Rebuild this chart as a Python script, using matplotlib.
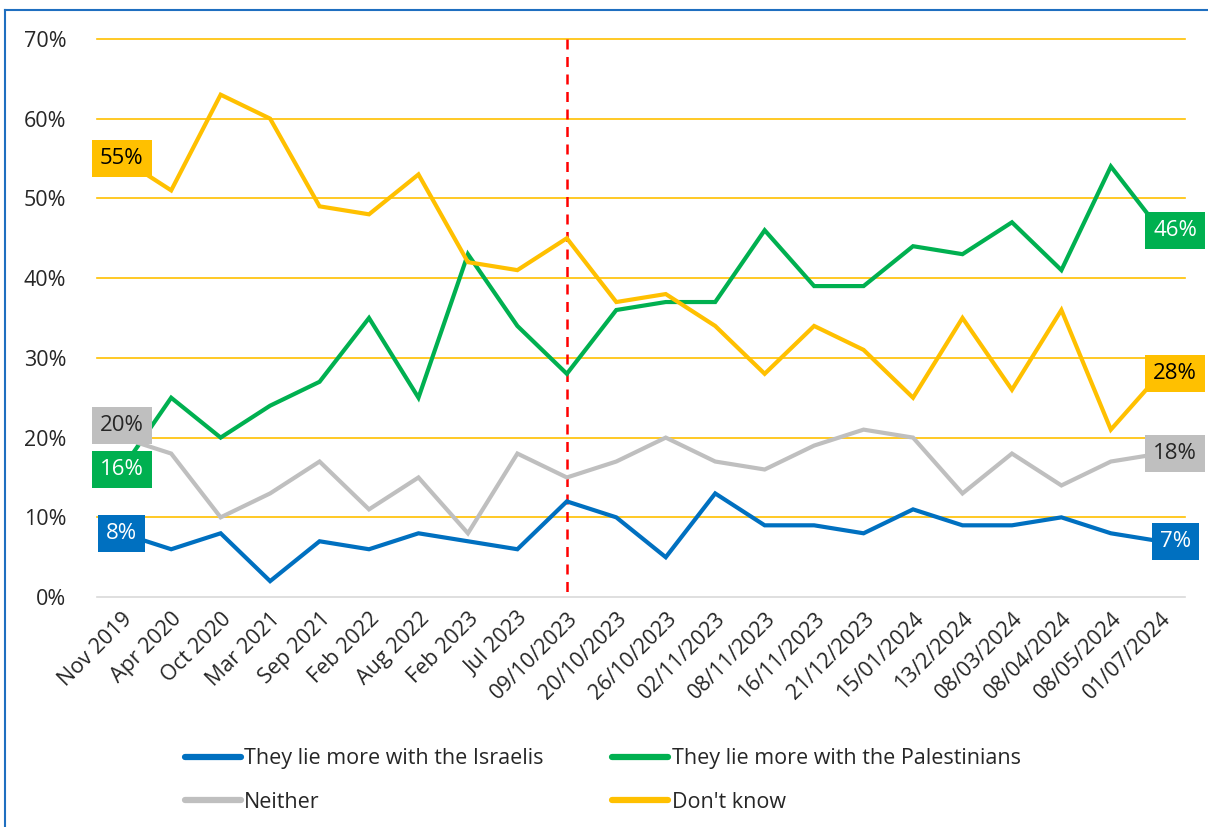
import matplotlib.pyplot as plt
from matplotlib.lines import Line2D
import matplotlib.ticker as ticker

plt.rcParams['font.family'] = ['Open Sans', 'DejaVu Sans']

dates = ["Nov 2019", "Apr 2020", "Oct 2020", "Mar 2021", "Sep 2021", "Feb 2022",
         "Aug 2022", "Feb 2023", "Jul 2023", "09/10/2023", "20/10/2023", "26/10/2023",
         "02/11/2023", "08/11/2023", "16/11/2023", "21/12/2023", "15/01/2024",
         "13/2/2024", "08/03/2024", "08/04/2024", "08/05/2024", "01/07/2024"]

israelis = [8, 6, 8, 2, 7, 6, 8, 7, 6, 12, 10, 5, 13, 9, 9, 8, 11, 9, 9, 10, 8, 7]
palestinians = [16, 25, 20, 24, 27, 35, 25, 43, 34, 28, 36, 37, 37, 46, 39, 39, 44, 43, 47, 41, 54, 46]
neither = [20, 18, 10, 13, 17, 11, 15, 8, 18, 15, 17, 20, 17, 16, 19, 21, 20, 13, 18, 14, 17, 18]
dont_know = [55, 51, 63, 60, 49, 48, 53, 42, 41, 45, 37, 38, 34, 28, 34, 31, 25, 35, 26, 36, 21, 28]

war_start = "09/10/2023"

series = [
    ("They lie more with the Israelis", israelis, '#0070C0', 'white'),
    ("They lie more with the Palestinians", palestinians, '#00B050', 'white'),
    ("Neither", neither, '#BFBFBF', '#262626'),
    ("Don't know", dont_know, '#FFC000', 'black'),
]

fig = plt.figure(figsize=(12.08, 8.27), dpi=100)
ax = fig.add_axes([0.0803, 0.278, 0.9007, 0.675])

x = list(range(len(dates)))

for yv in range(10, 80, 10):
    ax.axhline(yv, color='#FFC000', linewidth=1.2, zorder=1, clip_on=False)
ax.axhline(0, color='#D9D9D9', linewidth=1.2, zorder=1, clip_on=False)

xi = dates.index(war_start)
ax.plot([xi, xi], [70, 0], color='#FF0000', linestyle=(0, (4, 3)), linewidth=1.8,
        zorder=2, clip_on=False)

for name, vals, color, tcolor in series:
    ax.plot(x, vals, color=color, linewidth=3, label=name, zorder=3,
            solid_joinstyle='miter')

# end labels
offsets_first = {"Neither": 1.5}
for name, vals, color, tcolor in series:
    dy = offsets_first.get(name, 0)
    ax.text(x[0], vals[0] + dy, f"{vals[0]}%", color=tcolor, fontsize=16,
            ha='center', va='center', zorder=5,
            bbox=dict(boxstyle='square,pad=0.36', facecolor=color, edgecolor='none'))
    ax.text(x[-1] + 0.3, vals[-1], f"{vals[-1]}%", color=tcolor, fontsize=16,
            ha='center', va='center', zorder=5, clip_on=False,
            bbox=dict(boxstyle='square,pad=0.36', facecolor=color, edgecolor='none'))

ax.set_xlim(-0.5, len(dates) - 0.5)
ax.set_ylim(0, 70)
ax.yaxis.set_major_locator(ticker.MultipleLocator(10))
ax.yaxis.set_major_formatter(ticker.StrMethodFormatter("{x:.0f}%"))
ax.set_xticks(x)
ax.set_xticklabels(dates, rotation=45, ha='right', rotation_mode='anchor')
ax.tick_params(axis='both', length=0, labelsize=15.5, colors='#262626')
ax.tick_params(axis='y', pad=22)
ax.tick_params(axis='x', pad=8)
for s in ax.spines.values():
    s.set_visible(False)

handles = [Line2D([0], [0], color=c, linewidth=4.5, solid_capstyle='round') for _, _, c, _ in series]
labels = [n for n, _, _, _ in series]
fig.legend([handles[0], handles[2], handles[1], handles[3]],
           [labels[0], labels[2], labels[1], labels[3]],
           ncol=2, loc='center left', bbox_to_anchor=(0.137, 0.056),
           frameon=False, fontsize=15.5, handlelength=2.6, handletextpad=0.15,
           columnspacing=3.2, labelspacing=1.05, labelcolor='#262626')

# frame of the original figure box
fig.add_artist(Line2D([0.0045, 0.0045], [0, 0.988], color='#1F6FC0', linewidth=1.5,
                      transform=fig.transFigure))
fig.add_artist(Line2D([0.0045, 1.0], [0.988, 0.988], color='#1F6FC0', linewidth=1.5,
                      transform=fig.transFigure))

fig.savefig("out.png", dpi=100)
